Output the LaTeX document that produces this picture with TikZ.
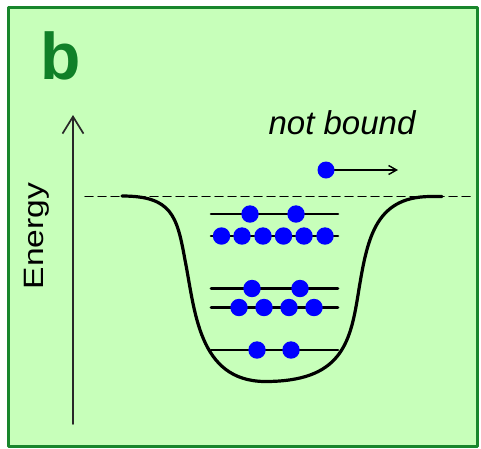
\documentclass[tikz,border=0pt]{standalone}
\usepackage{graphicx}
\usepackage{fontspec}
\setmainfont{Liberation Sans}
\usepackage{xcolor}
\usetikzlibrary{arrows.meta}

\definecolor{panelfill}{RGB}{199,255,186}
\definecolor{panelframe}{RGB}{24,134,44}
\definecolor{taggreen}{RGB}{16,128,40}
\definecolor{axisgray}{RGB}{40,40,40}

\begin{document}
\begin{tikzpicture}[
  x=1pt, y=-1pt,
  line cap=round,
  line join=round,
  level/.style={line width=2.6pt, black},
  electron/.style={fill=blue, draw=none},
  every node/.style={inner sep=0pt}
]
  \useasboundingbox (0,0) rectangle (481,448);

  % Panel
  \draw[fill=panelfill, draw=panelframe, line width=3pt] (8,7.5) rectangle (477,446);
  \node[anchor=base west, text=taggreen, font=\fontsize{66}{66}\selectfont\bfseries] (tag) at (40,79) {b};

  % Energy axis
  \coordinate (axisBot) at (73,424);
  \coordinate (axisTop) at (73,115);
  \draw[-{Straight Barb[length=17pt,width=21pt,line width=1.7pt]}, line width=1.7pt, axisgray] (axisBot) -- (axisTop);
  \node[anchor=base, rotate=90, font=\fontsize{28}{28}\selectfont] (energy) at (43.5,236) {\scalebox{1.2}[1]{Energy}};

  % Threshold and the well
  \draw[dashed, dash pattern=on 8pt off 5pt, line width=1.5pt] (85,196.5) -- (470,196.5);
  \draw[line width=3.2pt]
    (122,196) .. controls (172,196) and (177,216) .. (185,260)
              .. controls (195,310) and (198,381) .. (265,381.5)
              .. controls (340,381.5) and (350,345) .. (358,295)
              .. controls (367,240) and (374,197) .. (430,196.5) -- (442,196.5);

  % Bound levels
  \foreach \yy in {214,236,288.5,307.5,350}{\draw[level] (211,\yy) -- (338,\yy);}
  \foreach \xx in {250,296}{\fill[electron] (\xx,214) circle (8.7pt);}
  \foreach \xx in {221.5,242,263,283.5,304,325}{\fill[electron] (\xx,236) circle (8.7pt);}
  \foreach \xx in {252,300}{\fill[electron] (\xx,288.5) circle (8.7pt);}
  \foreach \xx in {239,264,289,314}{\fill[electron] (\xx,307.5) circle (8.7pt);}
  \foreach \xx in {257,291}{\fill[electron] (\xx,350) circle (8.7pt);}

  % Free electron
  \coordinate (freeDot) at (326,170);
  \coordinate (freeEnd) at (398,170);
  \draw[-{Straight Barb[length=8pt,width=9pt,line width=1.4pt]}, line width=1.4pt] (freeDot) -- (freeEnd);
  \fill[electron] (freeDot) circle (8.5pt);
  \node[anchor=base, font=\fontsize{33}{33}\selectfont\itshape] (nbound) at (342,134) {not bound};
\end{tikzpicture}
\end{document}
